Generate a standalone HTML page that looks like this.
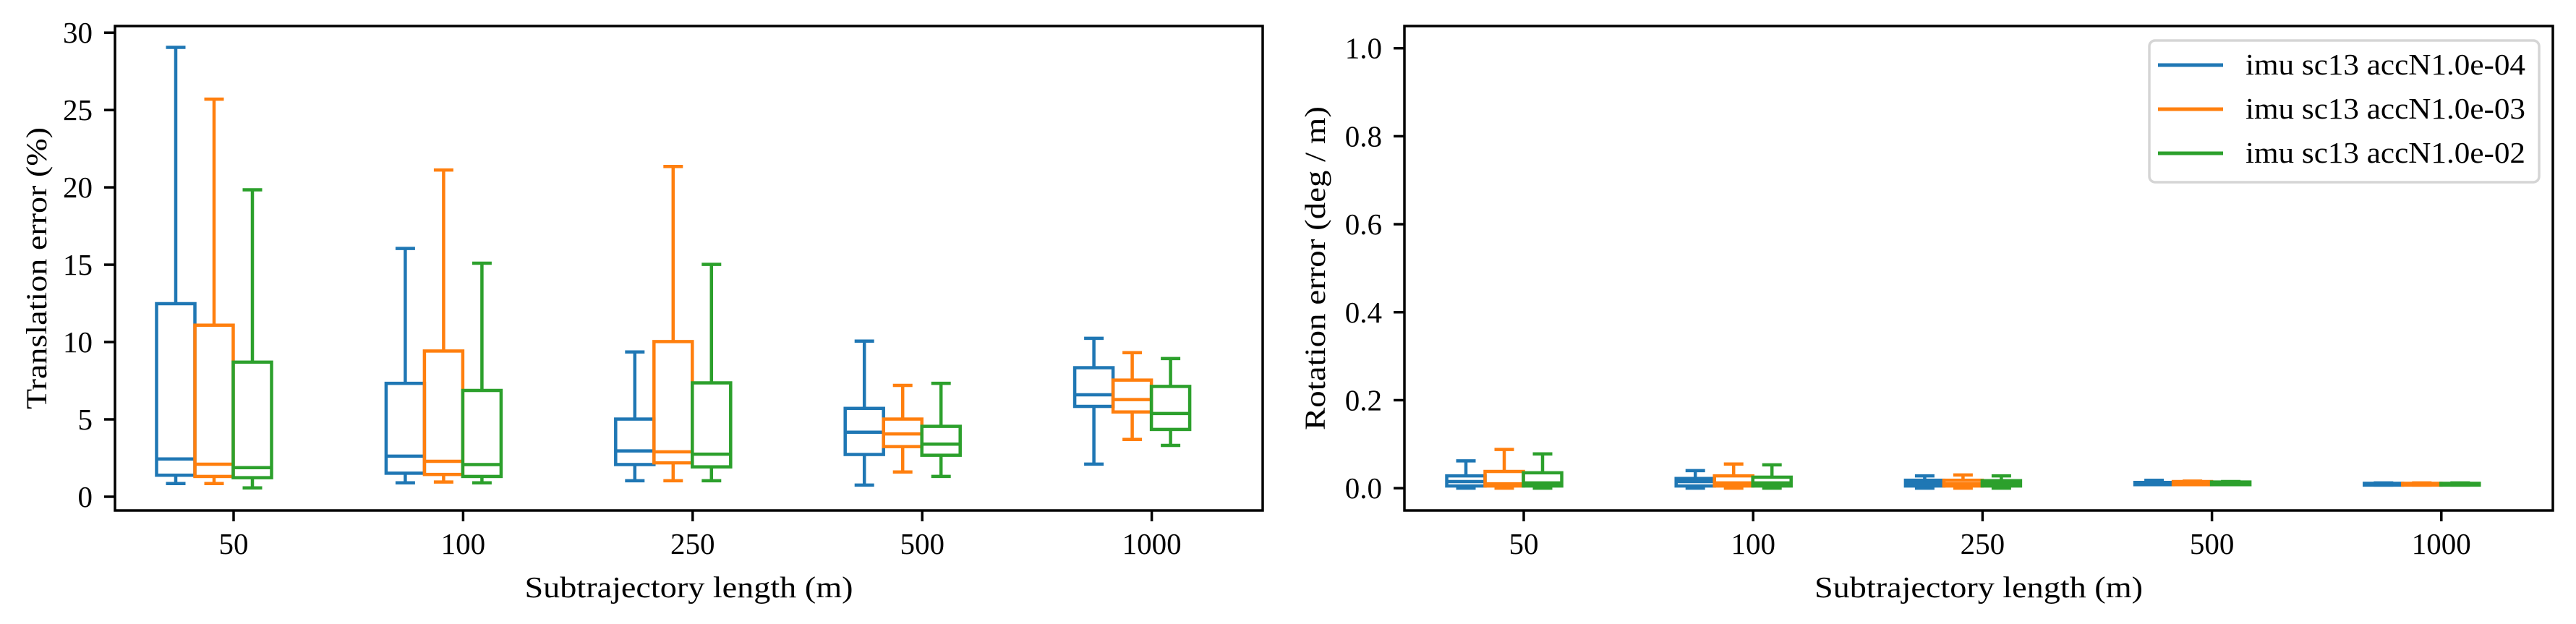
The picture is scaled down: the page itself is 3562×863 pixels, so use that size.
<!DOCTYPE html>
<html><head><meta charset="utf-8"><style>
html,body{margin:0;padding:0;background:#fff;}
svg{display:block;font-family:"Liberation Serif",serif;}
</style></head><body>
<svg id="fig" width="3562" height="863" viewBox="0 0 3562 863"></svg>
<script>
const categories = ["50","100","250","500","1000"];
const seriesNames = ["imu sc13 accN1.0e-04","imu sc13 accN1.0e-03","imu sc13 accN1.0e-02"];
const colors = ["#1f77b4","#ff7f0e","#2ca02c"];
// Translation error [lo, q1, med, q3, hi] per category
const transBlue   = [[0.85,1.39,2.44,12.48,29.05],[0.9,1.52,2.62,7.33,16.05],[1.03,2.08,2.96,5.02,9.36],[0.75,2.73,4.17,5.71,10.06],[2.11,5.84,6.59,8.34,10.24]];
const transOrange = [[0.85,1.31,2.1,11.09,25.7],[0.95,1.44,2.29,9.42,21.12],[1.03,2.19,2.9,10.03,21.35],[1.6,3.24,4.06,5.02,7.2],[3.7,5.48,6.28,7.54,9.31]];
const transGreen  = [[0.57,1.23,1.88,8.7,19.84],[0.9,1.31,2.08,6.87,15.1],[1.03,1.93,2.75,7.36,15.02],[1.31,2.68,3.4,4.55,7.33],[3.32,4.35,5.38,7.13,8.93]];
// Rotation error
const rotBlue   = [[0.0,0.005,0.015,0.028,0.062],[0.0,0.005,0.015,0.022,0.04],[0.0,0.005,0.012,0.018,0.028],[0.008,0.008,0.01,0.013,0.018],[0.007,0.007,0.009,0.011,0.012]];
const rotOrange = [[0.0,0.005,0.01,0.038,0.088],[0.0,0.005,0.012,0.028,0.055],[0.0,0.005,0.01,0.018,0.03],[0.008,0.008,0.01,0.015,0.016],[0.007,0.007,0.009,0.011,0.012]];
const rotGreen  = [[0.0,0.005,0.012,0.035,0.078],[0.0,0.005,0.012,0.025,0.053],[0.0,0.005,0.01,0.017,0.028],[0.008,0.008,0.01,0.014,0.015],[0.007,0.007,0.009,0.011,0.012]];
const transTicks = [0,5,10,15,20,25,30];
const transTickLabels = ["0","5","10","15","20","25","30"];
const rotTicks = [0,0.2,0.4,0.6,0.8,1.0];
const rotTickLabels = ["0.0","0.2","0.4","0.6","0.8","1.0"];

const NS="http://www.w3.org/2000/svg";
const svg=document.getElementById('fig');
function mk(tag,attrs,parent){const e=document.createElementNS(NS,tag);for(const k in attrs)e.setAttribute(k,attrs[k]);(parent||svg).appendChild(e);return e;}

function panel(cfg){
  const g=mk('g',{});
  
  
  const L=cfg.left,R=cfg.right,T=36,B=706;
  const y=v=>B-(v-cfg.ymin)/(cfg.ymax-cfg.ymin)*(B-T);
  const x=i=>cfg.x0+i*cfg.dx;
  const offs=[-80,-27,26], bw=53, cw=27;
  const data=cfg.data;
  for(let s=0;s<3;s++){
    for(let i=0;i<categories.length;i++){
      const d=data[s][i]; const cx=x(i)+offs[s]; const col=colors[s];
      const bg=mk('g',{stroke:col,'stroke-width':4.5,fill:'none'},g);
      
      
      mk('rect',{x:cx-bw/2,y:y(d[3]),width:bw,height:Math.max(y(d[1])-y(d[3]),0.5)},bg);
      mk('line',{x1:cx-bw/2,x2:cx+bw/2,y1:y(d[2]),y2:y(d[2])},bg);
      mk('line',{x1:cx,x2:cx,y1:y(d[3]),y2:y(d[4])},bg);
      mk('line',{x1:cx,x2:cx,y1:y(d[1]),y2:y(d[0])},bg);
      mk('line',{x1:cx-cw/2,x2:cx+cw/2,y1:y(d[4]),y2:y(d[4])},bg);
      mk('line',{x1:cx-cw/2,x2:cx+cw/2,y1:y(d[0]),y2:y(d[0])},bg);
    }
  }
  const frame=mk('rect',{x:L,y:T,width:R-L,height:B-T,fill:'none',stroke:'#000','stroke-width':3.5},g);
  
  
  cfg.ticks.forEach((t,k)=>{
    mk('line',{x1:L-15,x2:L,y1:y(t),y2:y(t),stroke:'#000','stroke-width':3.5},g);
    const tx=mk('text',{x:L-31,y:y(t)+14,'font-size':41,'text-anchor':'end'},g);
    tx.textContent=cfg.tickLabels[k];
    
    
  });
  categories.forEach((c,i)=>{
    mk('line',{x1:x(i),x2:x(i),y1:B,y2:B+15,stroke:'#000','stroke-width':3.5},g);
    const tx=mk('text',{x:x(i),y:766,'font-size':41,'text-anchor':'middle'},g);
    tx.textContent=c;
    
    
  });
  const xl=mk('text',{x:(L+R)/2,y:826,'font-size':41,'text-anchor':'middle',textLength:454,lengthAdjust:'spacingAndGlyphs'},g);
  xl.textContent='Subtrajectory length (m)';
  
  
  const yl=mk('text',{x:0,y:0,'font-size':40,'text-anchor':'middle',textLength:cfg.ylabLen,lengthAdjust:'spacingAndGlyphs',transform:`translate(${cfg.ylabX},${(T+B)/2}) rotate(-90)`},g);
  yl.textContent=cfg.ylabel;
  
  
}
panel({name:'translation-error-panel',key:'trans',left:159,right:1746,x0:323,dx:317.4,ymin:-0.89,ymax:30.43,
  data:[transBlue,transOrange,transGreen],ticks:transTicks,tickLabels:transTickLabels,
  ylabel:'Translation error (%)',ylabX:64,ylabLen:390});
panel({name:'rotation-error-panel',key:'rot',left:1942,right:3530,x0:2107,dx:317.2,ymin:-0.0507,ymax:1.0505,
  data:[rotBlue,rotOrange,rotGreen],ticks:rotTicks,tickLabels:rotTickLabels,
  ylabel:'Rotation error (deg / m)',ylabX:1832,ylabLen:448});

const lg=mk('g',{});


mk('rect',{x:2972,y:56,width:539,height:196,rx:8,fill:'#fff',stroke:'#d5d5d5','stroke-width':3.5},lg);
seriesNames.forEach((n,s)=>{
  const yy=90+s*61;
  const e=mk('g',{},lg);
  
  
  mk('line',{x1:2984,x2:3074,y1:yy,y2:yy,stroke:colors[s],'stroke-width':5},e);
  const t=mk('text',{x:3105,y:yy+13,'font-size':41,textLength:387,lengthAdjust:'spacingAndGlyphs'},e);
  t.textContent=n;
});
</script>
</body></html>
